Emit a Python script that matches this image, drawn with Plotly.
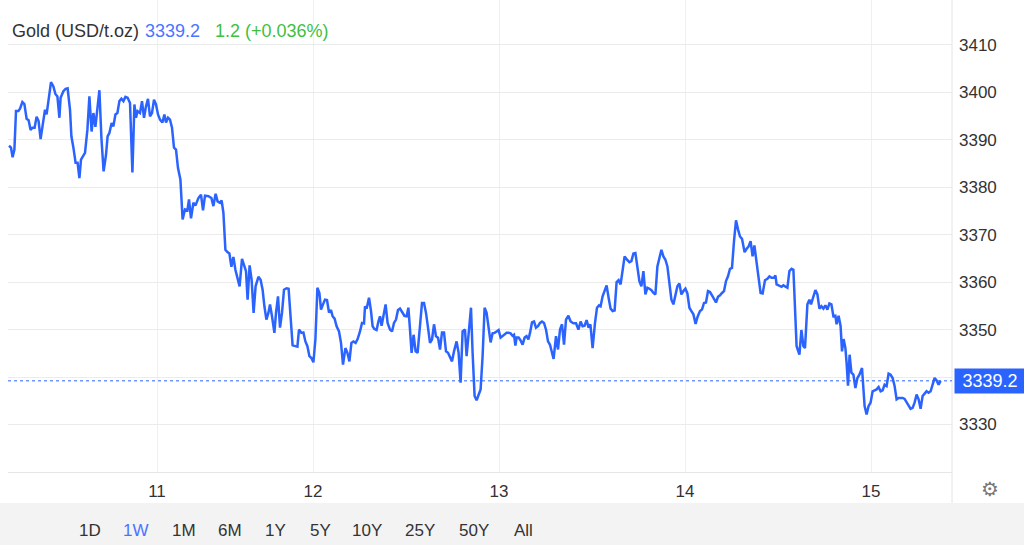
import plotly.graph_objects as go

# ---- data (trading-bar position, price) ----
t = [0.5,1.5,2.3,3.2,4.0,5.2,6.0,7.2,8.2,9.3,10.3,11.3,12.2,13.3,14.3,15.3,16.3,17.7,18.5,19.3,
     20.3,21.5,22.7,23.7,24.7,25.7,26.3,27.7,28.8,29.8,31.0,31.7,32.7,33.8,34.8,35.7,36.5,37.5,38.5,39.7,
     40.7,41.8,42.7,43.7,44.7,45.7,46.7,47.8,49.0,49.8,50.7,51.8,52.7,53.7,54.7,55.7,56.7,57.7,58.7,59.8,
     61.0,62.2,63.2,64.0,64.8,66.0,67.0,68.0,69.0,70.0,71.0,72.0,73.0,74.0,75.0,76.0,77.2,78.2,79.0,80.0,
     81.0,82.0,83.0,84.0,85.0,86.2,87.3,88.5,89.7,90.5,91.5,92.7,93.7,95.2,96.5,97.5,98.5,100.2,101.7,102.7,
     103.8,104.8,106.0,106.8,107.7,108.7,109.7,110.7,111.7,112.7,113.7,114.8,115.8,117.0,118.0,119.0,119.8,120.8,121.8,122.8,
     123.8,125.2,126.3,127.3,128.2,129.2,130.2,131.0,132.0,133.2,134.0,135.0,136.0,137.0,138.0,139.3,140.3,141.3,142.3,143.7,
     144.7,145.5,146.7,147.7,148.7,149.7,150.7,151.7,152.7,153.7,154.7,155.7,156.5,157.5,158.5,159.5,160.5,161.5,162.3,163.3,
     164.3,165.5,166.5,167.5,168.7,169.7,170.7,171.7,172.7,173.8,174.8,176.0,177.0,178.0,178.5,179.3,180.5,181.5,182.3,183.2,
     184.3,185.2,186.0,186.8,187.8,188.8,189.8,191.0,192.0,193.0,194.0,195.0,196.0,197.2,198.2,199.3,200.2,201.0,201.8,202.8,
     203.8,204.8,206.0,207.0,208.0,209.0,210.0,211.0,212.0,213.0,214.0,215.0,216.0,217.0,218.0,219.0,220.0,221.0,222.0,223.0,
     224.3,225.3,226.3,227.3,228.5,229.3,230.3,231.5,232.3,233.3,234.3,235.3,236.3,237.3,238.3,239.3,240.3,241.3,242.3,243.3,
     244.3,245.3,246.3,247.3,248.3,249.3,250.3,251.3,252.3,253.0,253.7,254.3,255.3,256.3,257.3,258.3,259.3,260.2,261.0,262.0,
     263.0,264.0,265.0,266.0,267.0,268.0,269.0,270.0,271.0,272.0,272.8,274.0,275.0,276.0,277.0,278.0,279.0,280.2,281.3,282.7,
     284.0,285.2,286.3,287.3,288.3,289.3,290.3,291.2,292.3,293.5,294.5,295.5,296.3,297.3,298.2,299.3,300.3,301.3,302.3,303.3,
     304.3,305.3,306.3,307.3,308.3,309.5,310.7,311.7,312.7,313.7,314.7,315.7,316.7,317.7,318.7,319.7,320.7,321.7,322.7,323.7,
     324.7,325.7,326.7,327.7,328.7,329.7,330.7,331.7,332.7,333.7,334.7,335.7,336.7,337.7,338.7,339.7,340.7,341.7,342.7,343.8,
     344.8,346.0,347.0,348.0,349.0,350.0,351.0,352.0,353.0,354.0,355.0,356.0,357.0,358.0,359.0,360.0,361.0,362.0,363.0,364.0,
     365.0,366.0,367.0,368.3,369.3,370.3,371.3,372.3,373.2,374.3,375.2,376.3,377.3,378.5,379.7,380.7,381.8,383.0,383.7,384.3,
     385.7,386.8,387.7,388.7,389.7,390.7,391.8,392.7,393.5,394.3,395.7,396.7,397.7,398.5,399.7,400.7,401.5,402.7,403.7,404.7,
     405.7,406.7,407.7,408.7,409.7,410.7,411.7,412.7,413.7,414.3,415.3,416.3,417.0,417.8,418.7,419.3,420.0,420.8,421.7,422.7,
     423.7,424.7,425.7,427.0,427.7,428.3,429.3,430.3,431.3,432.3,433.3,434.3,435.3,436.3,437.3,438.3,439.3,440.3,441.3,442.3,
     443.3,444.3,445.3,446.3,447.3,448.3,449.3,450.3,451.3,452.3,453.3,454.3,455.3,456.3,457.3,458.3,459.3,460.3,461.3,462.3,
     463.3,464.3,465.3,466.3]

price = [3388.7,3388.3,3386.3,3387.9,3396.0,3396.0,3396.5,3397.9,3397.5,3394.4,3394.1,3392.0,3392.5,3392.5,3394.8,3393.9,3390.1,3394.2,3396.3,3395.3,
     3398.8,3402.1,3401.2,3399.6,3399.1,3394.6,3398.8,3400.2,3400.7,3400.8,3396.3,3390.7,3388.3,3385.1,3385.1,3381.9,3385.8,3386.4,3387.2,3392.1,
     3399.1,3391.7,3395.6,3392.7,3397.0,3400.4,3390.4,3383.3,3386.8,3390.7,3391.4,3393.5,3392.8,3395.3,3395.6,3398.1,3398.6,3398.1,3399.0,3398.8,
     3397.7,3383.1,3397.4,3394.6,3396.0,3395.6,3398.1,3394.6,3397.0,3398.6,3394.9,3395.6,3398.4,3397.4,3395.3,3394.2,3393.6,3395.3,3393.6,3394.6,
     3394.2,3392.5,3388.3,3387.9,3384.0,3381.6,3373.2,3375.3,3375.1,3377.4,3373.4,3376.7,3376.1,3377.7,3378.4,3375.1,3378.2,3378.1,3377.7,3376.0,
     3378.6,3377.0,3376.7,3377.2,3374.6,3366.8,3366.3,3366.0,3363.2,3365.3,3362.6,3360.5,3359.1,3364.9,3363.7,3362.3,3356.3,3363.5,3360.5,3353.5,
     3359.1,3361.1,3360.5,3358.4,3354.9,3352.1,3353.5,3355.3,3352.8,3349.3,3353.5,3357.0,3350.4,3353.5,3358.4,3358.7,3358.6,3351.4,3346.7,3346.5,
     3346.4,3350.0,3349.3,3349.4,3347.5,3346.5,3344.4,3344.0,3343.1,3347.9,3358.8,3357.7,3354.2,3355.3,3356.3,3356.2,3353.6,3354.1,3352.8,3352.3,
     3350.7,3349.6,3347.2,3342.6,3346.1,3345.1,3343.3,3347.2,3347.5,3347.2,3348.0,3349.6,3351.4,3351.3,3354.9,3354.4,3356.7,3353.9,3350.7,3350.1,
     3349.9,3351.7,3352.8,3350.8,3353.2,3355.3,3351.4,3350.0,3349.6,3351.4,3352.1,3354.1,3354.4,3353.5,3352.9,3352.8,3354.6,3350.0,3345.1,3348.9,
     3345.4,3345.1,3350.4,3355.6,3355.6,3353.5,3350.4,3347.2,3347.9,3351.1,3348.6,3348.3,3345.8,3349.4,3349.4,3345.4,3345.1,3344.3,3343.3,3345.4,
     3347.5,3345.1,3338.8,3349.6,3350.0,3344.4,3348.6,3354.6,3345.1,3336.0,3335.1,3336.3,3337.4,3344.4,3354.6,3353.5,3350.4,3347.3,3349.2,3349.3,
     3349.6,3349.9,3348.3,3348.6,3348.9,3349.3,3349.3,3349.2,3348.7,3348.9,3346.6,3348.3,3348.3,3347.7,3346.8,3348.3,3348.6,3347.9,3349.3,3351.5,
     3351.7,3350.4,3350.7,3351.4,3351.7,3351.4,3350.0,3347.5,3346.8,3345.2,3343.8,3348.6,3345.8,3350.0,3351.1,3346.8,3352.1,3352.9,3351.7,3351.3,
     3351.3,3350.0,3351.7,3350.7,3350.8,3352.0,3350.4,3351.1,3346.1,3351.4,3354.6,3355.1,3354.9,3357.0,3358.1,3359.3,3356.7,3354.4,3353.9,3354.0,
     3360.0,3360.4,3359.5,3363.0,3365.4,3364.7,3364.2,3364.4,3366.0,3366.1,3363.0,3360.2,3359.1,3362.3,3357.4,3358.8,3358.6,3358.3,3357.7,3357.4,
     3363.3,3365.4,3366.8,3365.4,3364.7,3363.3,3359.5,3356.3,3355.3,3357.2,3359.1,3359.7,3357.4,3358.1,3358.6,3357.6,3354.6,3353.9,3353.2,3351.2,
     3352.7,3353.9,3354.2,3355.6,3355.7,3358.1,3357.9,3357.2,3356.5,3355.7,3356.9,3357.2,3357.7,3358.1,3360.2,3361.2,3362.8,3363.0,3368.6,3373.0,
     3371.1,3369.6,3369.1,3366.3,3367.0,3367.5,3368.6,3365.4,3367.7,3363.3,3361.2,3357.7,3357.6,3360.4,3360.7,3361.2,3360.9,3360.9,3361.4,3359.5,
     3359.3,3359.0,3359.3,3359.1,3358.8,3362.3,3362.8,3362.6,3354.2,3346.5,3344.7,3349.9,3346.5,3346.1,3355.3,3356.3,3355.3,3357.0,3358.3,3357.4,
     3354.4,3354.9,3354.4,3355.1,3354.2,3355.5,3355.3,3352.8,3352.9,3351.1,3352.9,3350.7,3345.4,3348.0,3346.1,3343.0,3338.2,3344.7,3340.9,3340.5,
     3337.7,3339.8,3340.5,3341.9,3338.1,3333.9,3332.1,3333.9,3334.6,3337.0,3337.2,3337.4,3337.9,3337.0,3337.2,3338.4,3338.1,3340.7,3340.5,3339.8,
     3338.1,3335.3,3335.6,3335.6,3335.6,3335.4,3334.6,3333.9,3333.3,3333.5,3334.6,3336.3,3335.3,3333.3,3336.0,3336.5,3337.0,3336.7,3337.0,3338.4,
     3339.8,3339.3,3338.4,3339.2]

day_tick_pos = [74.5, 152.5, 245.5, 338.5, 431.5]
day_tick_labels = ["11", "12", "13", "14", "15"]
y_tick_vals = [3320, 3330, 3340, 3350, 3360, 3370, 3380, 3390, 3400, 3410]
y_tick_text = ["", "3330", "", "3350", "3360", "3370", "3380", "3390", "3400", "3410"]
last_price = 3339.2
change_text = "1.2 (+0.036%)"
title_text = "Gold (USD/t.oz)"
range_buttons = ["1D", "1W", "1M", "6M", "1Y", "5Y", "10Y", "25Y", "50Y", "All"]
active_button = "1W"

# ---- layout constants ----
W, H = 1024, 545
ML, MR, MT, MB = 8, 72, 0, 73
PW = W - ML - MR
PH = H - MT - MB
FONT = "Liberation Sans, Arial, sans-serif"
LINE_BLUE = "#2b63ff"
TEXT_BLUE = "#4a74ff"
GREEN = "#3fbf3f"
DARK = "#333333"

def px_x(px):
    return (px - ML) / PW

def px_y(py):
    return (MT + PH - py) / PH

fig = go.Figure()
fig.add_trace(go.Scatter(x=t, y=price, mode="lines",
                         line=dict(color=LINE_BLUE, width=2.5),
                         hoverinfo="skip", showlegend=False))

shapes = [
    # bottom band
    dict(type="rect", xref="paper", yref="paper", x0=px_x(-5), x1=px_x(W + 5),
         y0=px_y(503), y1=px_y(H + 5), fillcolor="#f3f3f3", line=dict(width=0), layer="below"),
    # right border line
    dict(type="line", xref="paper", yref="paper", x0=1, x1=1, y0=1, y1=px_y(503),
         line=dict(color="#e4e4e4", width=1)),
    # last price dotted line
    dict(type="line", xref="paper", yref="y", x0=0, x1=1, y0=last_price, y1=last_price,
         line=dict(color=LINE_BLUE, width=1, dash="dot")),
]

annotations = [
    dict(xref="paper", yref="paper", x=px_x(10), y=px_y(31), xanchor="left", yanchor="middle",
         text=title_text, showarrow=False, font=dict(family=FONT, size=18, color=DARK)),
    dict(xref="paper", yref="paper", x=px_x(143), y=px_y(31), xanchor="left", yanchor="middle",
         text=f"{last_price:.1f}", showarrow=False, font=dict(family=FONT, size=18, color=TEXT_BLUE)),
    dict(xref="paper", yref="paper", x=px_x(213), y=px_y(31), xanchor="left", yanchor="middle",
         text=change_text, showarrow=False, font=dict(family=FONT, size=18, color=GREEN)),
    # last price label box
    dict(xref="paper", yref="y", x=px_x(954), y=last_price, xanchor="left", yanchor="middle",
         text=f"{last_price:.1f}", showarrow=False, bgcolor=LINE_BLUE, borderpad=4,
         width=62, height=16, align="center",
         font=dict(family=FONT, size=18, color="white")),
    # gear
    dict(xref="paper", yref="paper", x=px_x(990), y=px_y(489), xanchor="center", yanchor="middle",
         text="⚙", showarrow=False, font=dict(family="DejaVu Sans", size=20, color="#777777")),
]

button_px = [90, 136, 184, 230, 275, 320, 367, 420, 474, 523]
for lbl, bx in zip(range_buttons, button_px):
    annotations.append(dict(xref="paper", yref="paper", x=px_x(bx), y=px_y(530),
                            xanchor="center", yanchor="middle", text=lbl, showarrow=False,
                            font=dict(family=FONT, size=17,
                                      color=TEXT_BLUE if lbl == active_button else DARK)))

fig.update_layout(
    width=W, height=H,
    margin=dict(l=ML, r=MR, t=MT, b=MB, pad=0),
    paper_bgcolor="white", plot_bgcolor="white",
    showlegend=False,
    shapes=shapes, annotations=annotations,
    xaxis=dict(range=[0, 472], tickmode="array", tickvals=day_tick_pos, ticktext=day_tick_labels,
               showgrid=True, gridcolor="#edf0f5", gridwidth=1, zeroline=False,
               showline=True, linecolor="#e6e6e6", linewidth=1, ticks="",
               ticklabelstandoff=4,
               tickfont=dict(family=FONT, size=17, color=DARK), fixedrange=True),
    yaxis=dict(side="right", range=[3320, 3419.4], tickmode="array", tickvals=y_tick_vals,
               ticktext=y_tick_text, showgrid=True, gridcolor="#ebebeb", gridwidth=1,
               zeroline=False, showline=False, ticks="", ticklabelstandoff=6,
               tickfont=dict(family=FONT, size=17, color=DARK), fixedrange=True),
)

fig.write_html("out.html", config={"displayModeBar": False},
               post_script="document.body.style.margin='0';document.body.style.overflow='hidden';")
